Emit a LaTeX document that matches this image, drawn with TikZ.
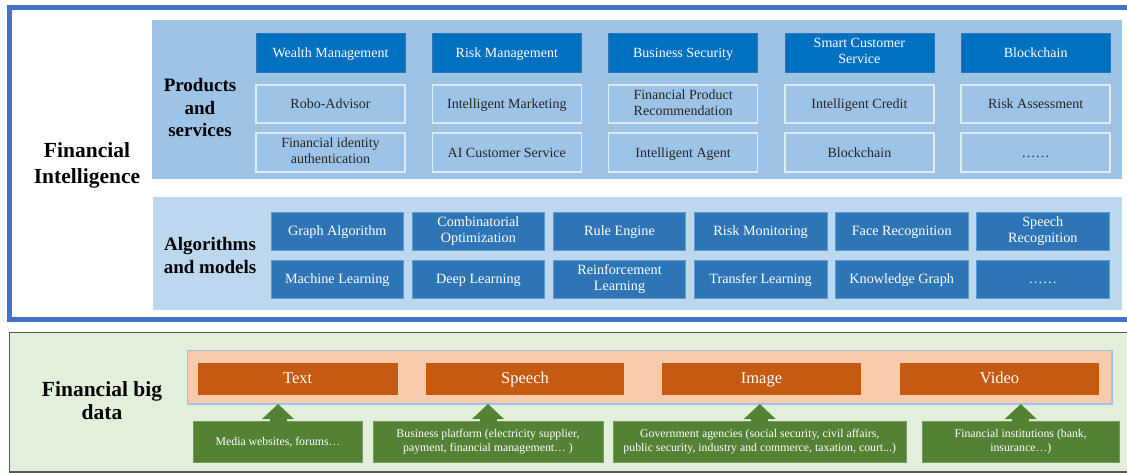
\documentclass[tikz,border=0pt]{standalone}
\usepackage{fontspec}
\setmainfont{Liberation Serif}
\usetikzlibrary{arrows.meta}
\definecolor{frameblue}{HTML}{4472C4}
\definecolor{panelblue}{HTML}{9DC3E6}
\definecolor{panellight}{HTML}{BDD7EE}
\definecolor{darkblue}{HTML}{0070C0}
\definecolor{midblue}{HTML}{2E75B6}
\definecolor{edgeblue}{HTML}{5B9BD5}
\definecolor{paleblue}{HTML}{DEEBF7}
\definecolor{greenpanel}{HTML}{E2EFDA}
\definecolor{greenbox}{HTML}{548235}
\definecolor{orangepanel}{HTML}{F8CBAD}
\definecolor{orangebox}{HTML}{C55A11}
\definecolor{textdark}{HTML}{262626}
\definecolor{borderdark}{HTML}{595959}
\newcommand{\boxstrut}{\rule[-0.21\baselineskip]{0pt}{\baselineskip}}
\tikzset{
  base/.style={inner sep=0pt, outer sep=0pt, anchor=north west, align=center,
    execute at begin node=\boxstrut, execute at end node=\boxstrut},
  headbox/.style={base, fill=darkblue, draw=midblue, line width=0.8pt, text=white,
    minimum width=149pt, minimum height=39pt, font=\fontsize{14}{16}\selectfont},
  prodbox/.style={base, draw=paleblue, line width=1.5pt, text=textdark,
    minimum width=149pt, minimum height=38pt, font=\fontsize{14}{16}\selectfont},
  algbox/.style={base, fill=midblue, draw=edgeblue, line width=0.8pt, text=white,
    minimum width=132.6pt, minimum height=37.5pt, font=\fontsize{14.2}{16}\selectfont},
  databox/.style={base, fill=orangebox, text=white,
    minimum width=199.5pt, minimum height=31.5pt, font=\fontsize{16.5}{18}\selectfont},
  srcbox/.style={base, fill=greenbox, draw=greenbox!80!white, line width=0.6pt, text=white,
    minimum height=40.5pt, font=\fontsize{11.8}{13.5}\selectfont},
  title/.style={inner sep=0pt, align=center, text=black},
  uparrow/.style={draw=greenbox, line width=17pt, -{Triangle[width=31pt,length=15pt]}},
}
\begin{document}
\begin{tikzpicture}[x=1pt,y=-1pt]
\useasboundingbox (0,0) rectangle (1127,473);
\clip (0,0) rectangle (1127,473);
% outer frame
\draw[frameblue, line width=5pt, fill=white] (9.75,7.75) rectangle (1135,319);
% panels
\fill[panelblue] (152,20) rectangle (1122,179);
\fill[panellight] (153,197) rectangle (1122,310);
% titles
\node[title, font=\bfseries\fontsize{21.5}{26}\selectfont] (fi) at (87,165) {Financial\\Intelligence};
\node[title, font=\bfseries\fontsize{19}{22.5}\selectfont] (ps) at (200,108) {Products\\and\\services};
\node[title, font=\bfseries\fontsize{19}{23}\selectfont] (am) at (210,256) {Algorithms\\and models};
% products row 1
\node[headbox] (h1) at (256,33) {Wealth Management};
\node[headbox] (h2) at (432.3,33) {Risk Management};
\node[headbox] (h3) at (608.6,33) {Business Security};
\node[headbox] (h4) at (784.9,33) {Smart Customer\\Service};
\node[headbox] (h5) at (961.2,33) {Blockchain};
% products row 2
\node[prodbox] (r1) at (256,85) {Robo-Advisor};
\node[prodbox] (r2) at (432.3,85) {Intelligent Marketing};
\node[prodbox] (r3) at (608.6,85) {Financial Product\\Recommendation};
\node[prodbox] (r4) at (784.9,85) {Intelligent Credit};
\node[prodbox] (r5) at (961.2,85) {Risk Assessment};
% products row 3
\node[prodbox, minimum height=39pt] (s1) at (256,133) {Financial identity\\authentication};
\node[prodbox, minimum height=39pt] (s2) at (432.3,133) {AI Customer Service};
\node[prodbox, minimum height=39pt] (s3) at (608.6,133) {Intelligent Agent};
\node[prodbox, minimum height=39pt] (s4) at (784.9,133) {Blockchain};
\node[prodbox, minimum height=39pt] (s5) at (961.2,133) {……};
% algorithms row 1
\node[algbox] (a1) at (271,212.5) {Graph Algorithm};
\node[algbox] (a2) at (412.1,212.5) {Combinatorial\\Optimization};
\node[algbox] (a3) at (553.2,212.5) {Rule Engine};
\node[algbox] (a4) at (694.3,212.5) {Risk Monitoring};
\node[algbox] (a5) at (835.4,212.5) {Face Recognition};
\node[algbox] (a6) at (976.5,212.5) {Speech\\Recognition};
% algorithms row 2
\node[algbox, minimum height=38pt] (b1) at (271,260) {Machine Learning};
\node[algbox, minimum height=38pt] (b2) at (412.1,260) {Deep Learning};
\node[algbox, minimum height=38pt] (b3) at (553.2,260) {Reinforcement\\Learning};
\node[algbox, minimum height=38pt] (b4) at (694.3,260) {Transfer Learning};
\node[algbox, minimum height=38pt] (b5) at (835.4,260) {Knowledge Graph};
\node[algbox, minimum height=38pt] (b6) at (976.5,260) {……};
% big data panel
\draw[borderdark, line width=1.2pt, fill=greenpanel] (9.5,332.5) rectangle (1140,472);
\node[title, font=\bfseries\fontsize{21.5}{23}\selectfont] (fb) at (102,401) {Financial big\\data};
\node[base, fill=orangepanel, draw=panelblue, line width=1.2pt, minimum width=924.5pt, minimum height=53.5pt] (op) at (187.5,350.5) {};
\node[databox] (d1) at (198,363) {Text};
\node[databox, minimum width=198.7pt] (d2) at (425.7,363) {Speech};
\node[databox, minimum width=199pt] (d3) at (662,363) {Image};
\node[databox, minimum width=199pt] (d4) at (900,363) {Video};
% sources
\node[srcbox, minimum width=168.9pt] (g1) at (193.6,421.5) {Media websites, forums…};
\node[srcbox, minimum width=230pt] (g2) at (373,421.5) {Business platform (electricity supplier,\\payment, financial management… )};
\node[srcbox, minimum width=292.5pt] (g3) at (613.5,421.5) {Government agencies (social security, civil affairs,\\public security, industry and commerce, taxation, court...)};
\node[srcbox, minimum width=196.1pt] (g4) at (922.7,421.5) {Financial institutions (bank,\\insurance…)};
% arrows
\foreach \g in {g1,g2,g3,g4}
  \draw[uparrow] (\g.north) -- (\g.north |- op.south);
\end{tikzpicture}
\end{document}
